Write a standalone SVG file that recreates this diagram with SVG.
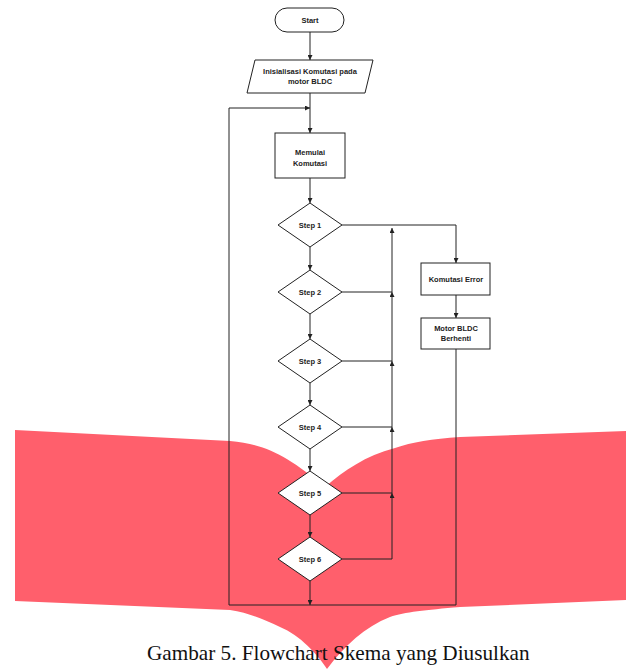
<svg xmlns="http://www.w3.org/2000/svg" width="626" height="669" viewBox="0 0 626 669">
<defs>
<style>
.n{fill:#fff;stroke:#222;stroke-width:1}
.t{font-family:"Liberation Sans",Arial,sans-serif;font-weight:bold;font-size:7.5px;fill:#222;text-anchor:middle}
.c{fill:none;stroke:#222;stroke-width:1}
.cap{font-family:"Liberation Serif","Times New Roman",serif;font-size:21.2px;fill:#111}
</style>
<marker id="a" viewBox="0 0 6 6" refX="6" refY="3" markerWidth="5" markerHeight="5" orient="auto" markerUnits="userSpaceOnUse"><path d="M0,0L6,3L0,6z" fill="#222"/></marker>
</defs>
<rect width="626" height="669" fill="#fff"/>
<path id="ribbon" fill="#ff5f6c" d="M15,430 L230,441 C265,444 288,456 325,487 C345,470 365,456 395,448 C412,442 432,439 460,437 L626,431 L626,600 L460,607 C425,610 405,612 390,617 C365,627 345,645 327,669 C318,655 300,635 280,627 C265,620 250,613 230,610 L15,601 Z"/>
<g id="connectors" class="c">
<path d="M310,32V60" marker-end="url(#a)"/>
<path d="M310,93V133" marker-end="url(#a)"/>
<path d="M310,178V203" marker-end="url(#a)"/>
<path d="M310,247V270" marker-end="url(#a)"/>
<path d="M310,314V339" marker-end="url(#a)"/>
<path d="M310,383V405" marker-end="url(#a)"/>
<path d="M310,449V471" marker-end="url(#a)"/>
<path d="M310,515V537" marker-end="url(#a)"/>
<path d="M310,581V605" marker-end="url(#a)"/>
<path d="M342,225H456V263" marker-end="url(#a)"/>
<path d="M456,295V318" marker-end="url(#a)"/>
<path d="M456,349V605H229V108H310" marker-end="url(#a)"/>
<path d="M342,292H392M342,361H392M342,427H392M342,493H392M342,559H392"/>
<path d="M392,559V493" marker-end="url(#a)"/>
<path d="M392,493V427" marker-end="url(#a)"/>
<path d="M392,427V361" marker-end="url(#a)"/>
<path d="M392,361V292" marker-end="url(#a)"/>
<path d="M392,292V228" marker-end="url(#a)"/>
</g>
<g id="start"><rect class="n" x="275" y="8" width="69" height="24" rx="12"/><text class="t" x="310" y="23">Start</text></g>
<g id="init"><polygon class="n" points="255,60 373,60 365,93 247,93"/><text class="t" x="310" y="74">Inisialisasi Komutasi pada</text><text class="t" x="310" y="84">motor BLDC</text></g>
<g id="memulai"><rect class="n" x="275" y="133" width="70" height="45"/><text class="t" x="310" y="155">Memulai</text><text class="t" x="310" y="166">Komutasi</text></g>
<g id="step1"><polygon class="n" points="310,203 342,225 310,247 278,225"/><text class="t" x="310" y="228">Step 1</text></g>
<g id="step2"><polygon class="n" points="310,270 342,292 310,314 278,292"/><text class="t" x="310" y="295">Step 2</text></g>
<g id="step3"><polygon class="n" points="310,339 342,361 310,383 278,361"/><text class="t" x="310" y="364">Step 3</text></g>
<g id="step4"><polygon class="n" points="310,405 342,427 310,449 278,427"/><text class="t" x="310" y="430">Step 4</text></g>
<g id="step5"><polygon class="n" points="310,471 342,493 310,515 278,493"/><text class="t" x="310" y="496">Step 5</text></g>
<g id="step6"><polygon class="n" points="310,537 342,559 310,581 278,559"/><text class="t" x="310" y="562">Step 6</text></g>
<g id="error"><rect class="n" x="421" y="263" width="69" height="32"/><text class="t" x="456" y="282">Komutasi Error</text></g>
<g id="berhenti"><rect class="n" x="421" y="318" width="69" height="31"/><text class="t" x="456" y="331">Motor BLDC</text><text class="t" x="456" y="341">Berhenti</text></g>
<text class="cap" x="147" y="660">Gambar 5. Flowchart Skema yang Diusulkan</text>
</svg>
